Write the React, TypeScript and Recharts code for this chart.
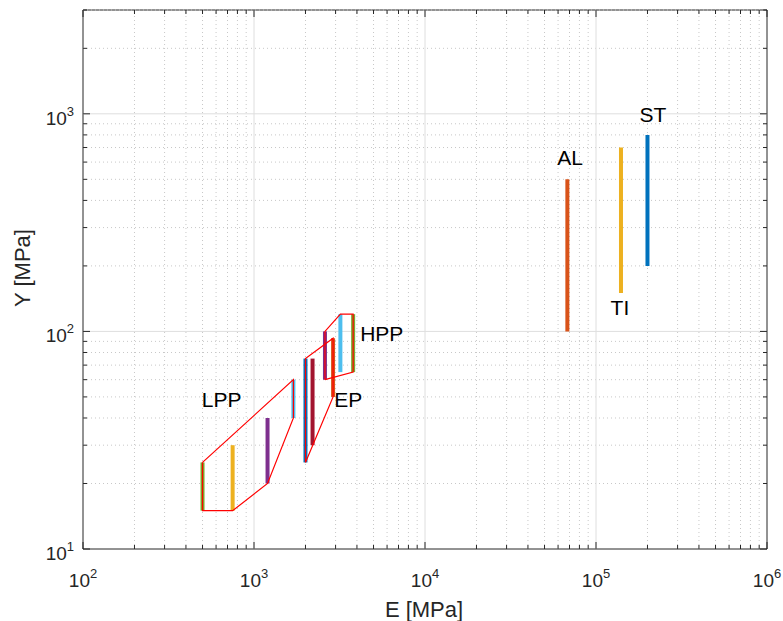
import React from 'react';
import { ComposedChart, XAxis, YAxis, Line, Scatter, ReferenceLine, ReferenceArea } from 'recharts';

// axis ticks (log decades + minor steps)
const X_MAJOR = [1e2, 1e3, 1e4, 1e5, 1e6];
const Y_MAJOR = [1e1, 1e2, 1e3];
const MINOR_STEPS = [2, 3, 4, 5, 6, 7, 8, 9];
const X_MINOR = [1e2, 1e3, 1e4, 1e5].flatMap((d) => MINOR_STEPS.map((m) => m * d));
const Y_MINOR = [...[1e1, 1e2].flatMap((d) => MINOR_STEPS.map((m) => m * d)), 2000, 3000];

// vertical range bars: modulus E and strength range lo..hi
const BAR_E = [500, 750, 1200, 1700, 2000, 2200, 2600, 2900, 3200, 3800, 68000, 140000, 200000];
const BAR_LO = [15, 15, 20, 40, 25, 30, 60, 50, 65, 65, 100, 150, 200];
const BAR_HI = [25, 30, 40, 60, 75, 75, 100, 93, 120, 120, 500, 700, 800];
const BAR_COLORS = [
  '#77AC30', '#EDB120', '#7E2F8E', '#4DBEEE',
  '#0072BD', '#A2142F', '#7E2F8E', '#D95319',
  '#4DBEEE', '#77AC30', '#D95319', '#EDB120', '#0072BD',
];

// outlines around the polymer groups
const LPP_HULL = [[500, 25], [1700, 60], [1700, 40], [1200, 20], [750, 15], [500, 15], [500, 25]];
const EP_HULL = [[2000, 25], [2000, 75], [2900, 93], [2900, 50], [2000, 25]];
const HPP_HULL = [[2600, 60], [2600, 100], [3200, 120], [3800, 120], [3800, 65], [2600, 60]];

// group labels
const LABEL_TEXT = ['AL', 'TI', 'ST', 'LPP', 'EP', 'HPP'];
const LABEL_E = [70500, 138000, 215000, 647, 3556, 5585];
const LABEL_Y = [627, 128, 990, 48.4, 48.4, 97.6];

const FONT = '"Liberation Sans", Arial, Helvetica, sans-serif';
const INK = '#262626';
const PLOT_TOP = 10;
const PLOT_BOTTOM = 549;
const PLOT_LEFT = 83;
const PLOT_RIGHT = 767;

const hullData = (pts: number[][]) => pts.map(([E, Y]) => ({ E, Y }));
const labelData = LABEL_TEXT.map((text, i) => ({ E: LABEL_E[i], Y: LABEL_Y[i], text }));

const isMajor = (v: number, majors: number[]) => majors.some((m) => Math.abs(m - v) < 1e-6 * m);

const XTick = (props: any) => {
  const { x, payload } = props;
  const v = payload.value;
  const major = isMajor(v, X_MAJOR);
  const len = major ? 7 : 4;
  return (
    <g>
      <line x1={x} x2={x} y1={PLOT_BOTTOM} y2={PLOT_BOTTOM - len} stroke={INK} strokeWidth={1} />
      <line x1={x} x2={x} y1={PLOT_TOP} y2={PLOT_TOP + len} stroke={INK} strokeWidth={1} />
      {major && (
        <text x={x} y={587} textAnchor="middle" fontSize={19} fill={INK} fontFamily={FONT}>
          10<tspan dy={-9} fontSize={13}>{Math.round(Math.log10(v))}</tspan>
        </text>
      )}
    </g>
  );
};

const YTick = (props: any) => {
  const { y, payload } = props;
  const v = payload.value;
  const major = isMajor(v, Y_MAJOR);
  const len = major ? 7 : 4;
  return (
    <g>
      <line x1={PLOT_LEFT} x2={PLOT_LEFT + len} y1={y} y2={y} stroke={INK} strokeWidth={1} />
      <line x1={PLOT_RIGHT} x2={PLOT_RIGHT - len} y1={y} y2={y} stroke={INK} strokeWidth={1} />
      {major && (
        <text x={74} y={y + 11} textAnchor="end" fontSize={19} fill={INK} fontFamily={FONT}>
          10<tspan dy={-9} fontSize={13}>{Math.round(Math.log10(v))}</tspan>
        </text>
      )}
    </g>
  );
};

export default function App() {
  return (
    <div style={{ position: 'absolute', left: 0, top: 0, width: 783, height: 621, background: '#fff' }}>
      <ComposedChart width={783} height={621} margin={{ top: PLOT_TOP, right: 16, bottom: 0, left: 0 }}>
        <XAxis
          dataKey="E"
          type="number"
          scale="log"
          domain={[100, 1e6]}
          allowDataOverflow
          ticks={[...X_MAJOR, ...X_MINOR]}
          interval={0}
          tick={<XTick />}
          tickLine={false}
          axisLine={false}
          height={72}
          label={() => (
            <text x={424} y={617} textAnchor="middle" fontSize={22} fill={INK} fontFamily={FONT}>
              E [MPa]
            </text>
          )}
        />
        <YAxis
          type="number"
          scale="log"
          domain={[10, 3000]}
          allowDataOverflow
          ticks={[...Y_MAJOR, ...Y_MINOR]}
          interval={0}
          tick={<YTick />}
          tickLine={false}
          axisLine={false}
          width={83}
          label={() => (
            <text
              x={22}
              y={268}
              transform="rotate(-90 22 268)"
              textAnchor="middle"
              dominantBaseline="central"
              fontSize={22}
              fill={INK}
              fontFamily={FONT}
            >
              Y [MPa]
            </text>
          )}
        />

        {X_MINOR.map((v) => (
          <ReferenceLine key={`xm${v}`} x={v} stroke="#c8c8c8" strokeDasharray="1 3" />
        ))}
        {Y_MINOR.map((v) => (
          <ReferenceLine key={`ym${v}`} y={v} stroke="#c8c8c8" strokeDasharray="1 3" />
        ))}
        {X_MAJOR.slice(1, -1).map((v) => (
          <ReferenceLine key={`xM${v}`} x={v} stroke="#dedede" />
        ))}
        {Y_MAJOR.slice(1).map((v) => (
          <ReferenceLine key={`yM${v}`} y={v} stroke="#dedede" />
        ))}
        <ReferenceArea x1={100} x2={1e6} y1={10} y2={3000} fill="none" stroke={INK} strokeWidth={1} />

        {BAR_E.map((E, i) => (
          <Line
            key={`bar${i}`}
            data={[{ E, Y: BAR_LO[i] }, { E, Y: BAR_HI[i] }]}
            dataKey="Y"
            stroke={BAR_COLORS[i]}
            strokeWidth={4}
            dot={false}
            activeDot={false}
            isAnimationActive={false}
          />
        ))}

        {[LPP_HULL, EP_HULL, HPP_HULL].map((h, i) => (
          <Line
            key={`hull${i}`}
            data={hullData(h)}
            dataKey="Y"
            stroke="#ff0000"
            strokeWidth={1.2}
            dot={false}
            activeDot={false}
            isAnimationActive={false}
          />
        ))}

        <Scatter
          data={labelData}
          dataKey="Y"
          isAnimationActive={false}
          shape={(p: any) => (
            <text
              x={p.cx}
              y={p.cy}
              dy="0.35em"
              textAnchor="middle"
              fontSize={21}
              fill="#000"
              fontFamily={FONT}
            >
              {p.payload.text}
            </text>
          )}
        />
      </ComposedChart>
    </div>
  );
}
